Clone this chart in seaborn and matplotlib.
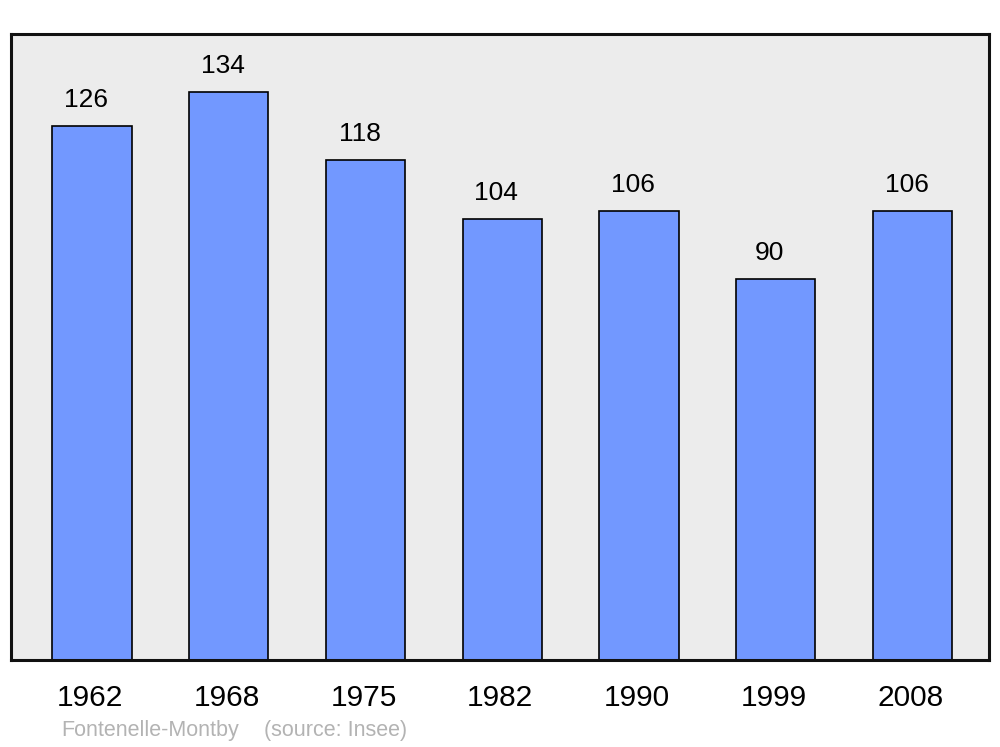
import matplotlib
matplotlib.use("Agg")
import matplotlib.pyplot as plt
import matplotlib.transforms as mtransforms
import seaborn as sns
import pandas as pd

# === DATA ===
years = ["1962", "1968", "1975", "1982", "1990", "1999", "2008"]
population = [126, 134, 118, 104, 106, 90, 106]
commune = "Fontenelle-Montby"
source = "(source: Insee)"

df = pd.DataFrame({"year": years, "pop": population})

sns.set_theme(style="white")
plt.rcParams["font.family"] = ["Liberation Sans", "DejaVu Sans"]

fig = plt.figure(figsize=(10, 7.47), dpi=100)
ax = fig.add_axes([0.011, 0.1165, 0.978, 0.838])
ax.set_facecolor("#ececec")

sns.barplot(data=df, x="year", y="pop", order=years, color="#7298ff",
            saturation=1, width=0.58, edgecolor="black", linewidth=1.2, ax=ax)

# value labels sit a little left of the bar centres in the original
for c in ax.containers:
    anns = ax.bar_label(c, padding=10, fontsize=19, color="black")
    for a in anns:
        a.xyann = (-4.3, a.xyann[1])

ax.set_xlim(-0.593, 6.56)
ax.set_ylim(0, 147.7)
ax.set_xlabel("")
ax.set_ylabel("")
ax.set_yticks([])
ax.tick_params(axis="x", length=0, pad=17, labelsize=21.5, labelcolor="black")
shift = mtransforms.ScaledTranslation(-2 / 100, 0, fig.dpi_scale_trans)
for lbl in ax.get_xticklabels():
    lbl.set_transform(lbl.get_transform() + shift)
for s in ax.spines.values():
    s.set_linewidth(2.2)
    s.set_color("#111111")

fig.text(0.061, 0.008, commune, fontsize=15.5, color="#b3b3b3", ha="left", va="bottom")
fig.text(0.264, 0.008, source, fontsize=15.5, color="#b3b3b3", ha="left", va="bottom")

fig.savefig("out.png", dpi=100, facecolor="white")
plt.close()
